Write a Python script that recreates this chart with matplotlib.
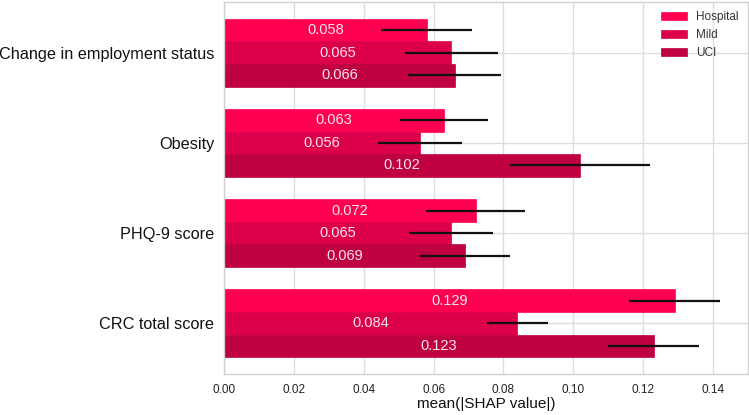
import matplotlib
matplotlib.use("Agg")
import matplotlib.pyplot as plt
import numpy as np

plt.rcParams['font.family'] = ['Liberation Sans', 'DejaVu Sans']

categories = ["Change in employment status", "Obesity", "PHQ-9 score", "CRC total score"]
series = ["Hospital", "Mild", "UCI"]
hospital = [0.058, 0.063, 0.072, 0.129]
mild = [0.065, 0.056, 0.065, 0.084]
uci = [0.066, 0.102, 0.069, 0.123]
hospital_err = [0.013, 0.0126, 0.0143, 0.013]
mild_err = [0.0133, 0.012, 0.012, 0.0088]
uci_err = [0.0133, 0.020, 0.013, 0.013]

values = [hospital, mild, uci]
errors = [hospital_err, mild_err, uci_err]
colors = ["#ff0051", "#dc004c", "#bf0042"]

fig = plt.figure(figsize=(7.49, 4.15), dpi=100)
ax = fig.add_axes([224/749, 1-374/415, (748-224)/749, (374-2)/415])

h = 0.25
y = np.arange(len(categories))
for i, (vals, errs, c, name) in enumerate(zip(values, errors, colors, series)):
    pos = y + (i - 1) * h
    ax.barh(pos, vals, height=h, color=c, label=name, zorder=2,
            edgecolor=c, linewidth=0.5)
    ax.errorbar(vals, pos, xerr=errs, fmt='none', ecolor='#111111',
                elinewidth=1.6, capsize=0, zorder=3)
    for p, v in zip(pos, vals):
        ax.text(v / 2, p, f"{v:.3f}", ha='center', va='center',
                color='#f5e6ea', fontsize=10.5, zorder=4)

ax.set_yticks(y)
ax.set_yticklabels(categories, fontsize=11.7, color='#111111')
ax.invert_yaxis()
ax.set_xlim(0, 0.15)
ticks = np.arange(0, 0.141, 0.02)
ax.set_xticks(ticks)
ax.set_xticklabels([f"{t:.2f}" for t in ticks])
ax.tick_params(axis='x', labelsize=8.5, colors='#222222', length=0, pad=7)
ax.tick_params(axis='y', length=0, pad=7)
ax.set_xlabel("mean(|SHAP value|)", fontsize=11, color='#111111', labelpad=1)

ax.grid(True, color='#dddddd', linewidth=1, zorder=0)
ax.set_axisbelow(True)
for s in ax.spines.values():
    s.set_color('#d0d0d0')
    s.set_linewidth(1)

ax.legend(loc='upper right', frameon=False, fontsize=8.5,
          handlelength=2.2, handleheight=0.7, labelcolor='#333333',
          borderaxespad=0.4, labelspacing=0.5)

fig.savefig("out.png", dpi=100)
